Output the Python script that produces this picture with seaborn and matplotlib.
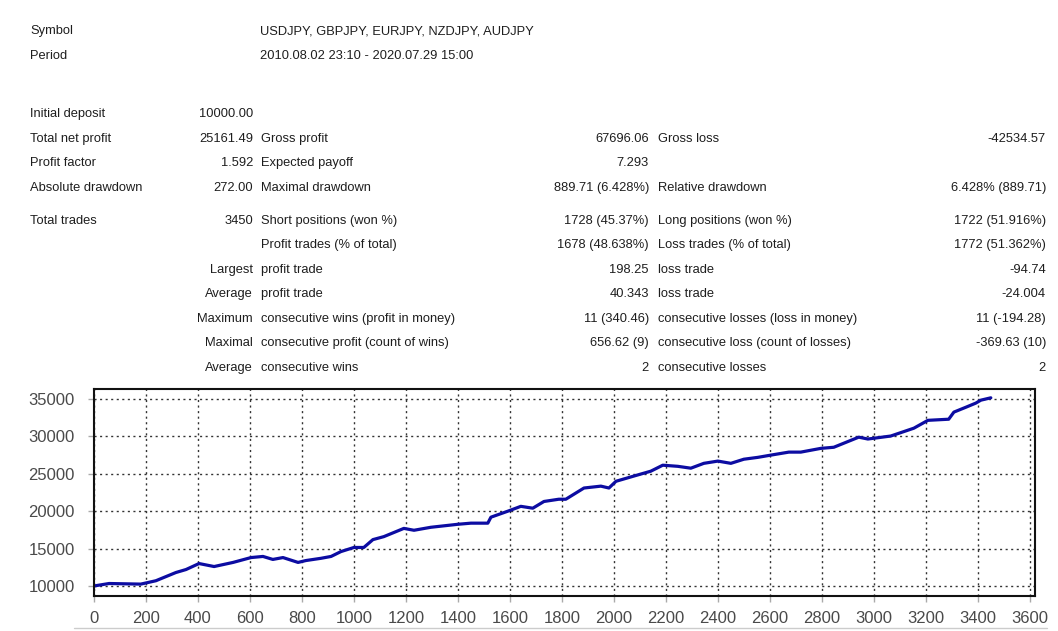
import numpy as np
import pandas as pd
import seaborn as sns
import matplotlib.pyplot as plt

# balance curve (trade number, balance)
trades = [0, 58, 180, 238, 315, 354, 404, 462, 535, 604, 650, 688, 727, 785, 815, 873,
          912, 950, 1000, 1038, 1073, 1115, 1192, 1231, 1296, 1400, 1450, 1515, 1527,
          1592, 1642, 1688, 1731, 1788, 1815, 1885, 1950, 1981, 2008, 2077, 2142, 2188,
          2246, 2296, 2346, 2400, 2450, 2500, 2554, 2604, 2673, 2719, 2796, 2846, 2942,
          2977, 3065, 3154, 3208, 3288, 3308, 3354, 3392, 3412, 3450]
balance = [10000, 10330, 10250, 10700, 11800, 12200, 13000, 12600, 13150, 13800, 13950,
           13550, 13800, 13150, 13400, 13700, 13950, 14600, 15150, 15150, 16200, 16600,
           17700, 17450, 17850, 18250, 18400, 18400, 19200, 20000, 20650, 20400, 21300,
           21600, 21600, 23100, 23350, 23100, 24000, 24700, 25350, 26150, 26000, 25750,
           26400, 26700, 26400, 26950, 27200, 27500, 27900, 27900, 28400, 28550, 29900,
           29650, 30050, 31100, 32150, 32300, 33250, 33900, 34450, 34850, 35161.49]

x_ticks = list(range(0, 3601, 200))
y_ticks = [10000, 15000, 20000, 25000, 30000, 35000]

header_rows = [
    ("Symbol", "USDJPY, GBPJPY, EURJPY, NZDJPY, AUDJPY"),
    ("Period", "2010.08.02 23:10 - 2020.07.29 15:00"),
]
# label, value, label, value, label, value
report_rows = [
    ("Initial deposit", "10000.00", "", "", "", ""),
    ("Total net profit", "25161.49", "Gross profit", "67696.06", "Gross loss", "-42534.57"),
    ("Profit factor", "1.592", "Expected payoff", "7.293", "", ""),
    ("Absolute drawdown", "272.00", "Maximal drawdown", "889.71 (6.428%)", "Relative drawdown", "6.428% (889.71)"),
    ("Total trades", "3450", "Short positions (won %)", "1728 (45.37%)", "Long positions (won %)", "1722 (51.916%)"),
    ("", "", "Profit trades (% of total)", "1678 (48.638%)", "Loss trades (% of total)", "1772 (51.362%)"),
    ("", "Largest", "profit trade", "198.25", "loss trade", "-94.74"),
    ("", "Average", "profit trade", "40.343", "loss trade", "-24.004"),
    ("", "Maximum", "consecutive wins (profit in money)", "11 (340.46)", "consecutive losses (loss in money)", "11 (-194.28)"),
    ("", "Maximal", "consecutive profit (count of wins)", "656.62 (9)", "consecutive loss (count of losses)", "-369.63 (10)"),
    ("", "Average", "consecutive wins", "2", "consecutive losses", "2"),
]

sns.set_theme(style="white")
plt.rcParams['font.family'] = ['Liberation Sans', 'DejaVu Sans']

W, H = 1058, 631
fig = plt.figure(figsize=(W / 100, H / 100), dpi=100)
txt = dict(fontsize=9.3, color="#1e1e1e", va="center")


def px(x, y):
    return x / W, 1 - y / H


# -----------------
# report text
for (lab, val), y in zip(header_rows, [31, 56]):
    fig.text(*px(30, y), lab, ha="left", **txt)
    fig.text(*px(260, y), val, ha="left", **txt)

row_y = [114, 139, 163, 188, 221, 245, 270, 294, 319, 343, 368]
for row, y in zip(report_rows, row_y):
    fig.text(*px(30, y), row[0], ha="left", **txt)
    fig.text(*px(253, y), row[1], ha="right", **txt)
    fig.text(*px(261, y), row[2], ha="left", **txt)
    fig.text(*px(649, y), row[3], ha="right", **txt)
    fig.text(*px(658, y), row[4], ha="left", **txt)
    fig.text(*px(1046, y), row[5], ha="right", **txt)

# -----------------
# balance chart
ax = fig.add_axes([94 / W, 1 - 596 / H, (1035 - 94) / W, (596 - 389) / H])
df = pd.DataFrame({"trade": trades, "balance": balance})
sns.lineplot(data=df, x="trade", y="balance", ax=ax, color="#0c0ca2", linewidth=2.3)

ax.set_xlim(0, 3620)
ax.set_ylim(8660, 36340)
ax.set_xticks(x_ticks)
ax.set_yticks(y_ticks)
ax.set_xlabel("")
ax.set_ylabel("")
ax.grid(True, color="#333333", linestyle=(0, (1.5, 2.5)), linewidth=1.0)
for s in ax.spines.values():
    s.set_color("#111111")
    s.set_linewidth(1.5)
ax.tick_params(axis="both", labelsize=12, labelcolor="#4a4a4a", color="#aaaaaa",
               direction="out", length=4, width=1, bottom=True, left=True)
ax.tick_params(axis="y", pad=10)
ax.tick_params(axis="x", pad=7)

fig.add_artist(plt.Line2D([0.07, 0.99], [1 - 628 / H, 1 - 628 / H], color="#cccccc", lw=1))

fig.savefig("out.png", dpi=100)
